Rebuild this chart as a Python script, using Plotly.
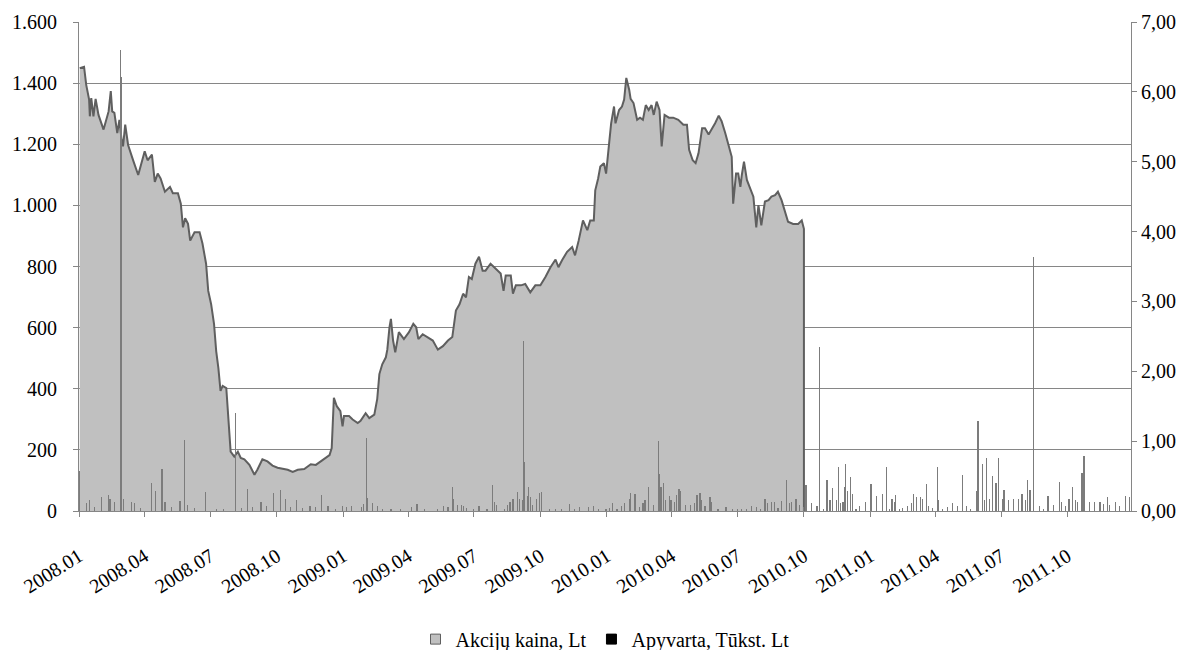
import plotly.graph_objects as go

# ---- Share price (Lt), right axis ----
price_dates = [
    "2008-01-02", "2008-01-08", "2008-01-11", "2008-01-15", "2008-01-16", "2008-01-18", "2008-01-21",
    "2008-01-24", "2008-01-28", "2008-02-04", "2008-02-11", "2008-02-14", "2008-02-16", "2008-02-19",
    "2008-02-23", "2008-02-26", "2008-02-29", "2008-03-02", "2008-03-05", "2008-03-09", "2008-03-16",
    "2008-03-23", "2008-04-01", "2008-04-05", "2008-04-11", "2008-04-15", "2008-04-19", "2008-04-23",
    "2008-04-29", "2008-05-06", "2008-05-10", "2008-05-17", "2008-05-21", "2008-05-24", "2008-05-27",
    "2008-05-31", "2008-06-03", "2008-06-09", "2008-06-16", "2008-06-20", "2008-06-25", "2008-06-28",
    "2008-07-02", "2008-07-06", "2008-07-09", "2008-07-12", "2008-07-15", "2008-07-18", "2008-07-23",
    "2008-07-25", "2008-07-29", "2008-08-03", "2008-08-08", "2008-08-12", "2008-08-17", "2008-08-24",
    "2008-08-31", "2008-09-04", "2008-09-11", "2008-09-18", "2008-09-25", "2008-10-02", "2008-10-09",
    "2008-10-16", "2008-10-23", "2008-10-30", "2008-11-08", "2008-11-17", "2008-11-24", "2008-12-01",
    "2008-12-08", "2008-12-13", "2008-12-16", "2008-12-19", "2008-12-23", "2008-12-28", "2008-12-31",
    "2009-01-02", "2009-01-09", "2009-01-14", "2009-01-21", "2009-01-25", "2009-02-01", "2009-02-06",
    "2009-02-13", "2009-02-17", "2009-02-20", "2009-02-24", "2009-03-01", "2009-03-03", "2009-03-06",
    "2009-03-08", "2009-03-11", "2009-03-14", "2009-03-19", "2009-03-26", "2009-04-02", "2009-04-08",
    "2009-04-12", "2009-04-15", "2009-04-21", "2009-04-28", "2009-05-05", "2009-05-12", "2009-05-19",
    "2009-05-26", "2009-06-01", "2009-06-06", "2009-06-11", "2009-06-16", "2009-06-20", "2009-06-24",
    "2009-06-28", "2009-07-03", "2009-07-08", "2009-07-13", "2009-07-17", "2009-07-24", "2009-07-31",
    "2009-08-07", "2009-08-11", "2009-08-14", "2009-08-21", "2009-08-24", "2009-08-28", "2009-09-04",
    "2009-09-10", "2009-09-17", "2009-09-24", "2009-10-01", "2009-10-08", "2009-10-15", "2009-10-22",
    "2009-10-26", "2009-10-31", "2009-11-07", "2009-11-14", "2009-11-18", "2009-11-23", "2009-11-29",
    "2009-12-05", "2009-12-09", "2009-12-14", "2009-12-16", "2009-12-20", "2009-12-23", "2009-12-28",
    "2009-12-31", "2010-01-04", "2010-01-07", "2010-01-11", "2010-01-13", "2010-01-18", "2010-01-22",
    "2010-01-25", "2010-01-28", "2010-02-01", "2010-02-03", "2010-02-07", "2010-02-12", "2010-02-16",
    "2010-02-20", "2010-02-24", "2010-02-28", "2010-03-04", "2010-03-07", "2010-03-11", "2010-03-15",
    "2010-03-18", "2010-03-22", "2010-03-28", "2010-04-03", "2010-04-10", "2010-04-17", "2010-04-22",
    "2010-04-25", "2010-04-30", "2010-05-04", "2010-05-08", "2010-05-13", "2010-05-17", "2010-05-22",
    "2010-05-27", "2010-05-31", "2010-06-05", "2010-06-09", "2010-06-14", "2010-06-18", "2010-06-23",
    "2010-06-25", "2010-06-29", "2010-07-02", "2010-07-05", "2010-07-07", "2010-07-10", "2010-07-14",
    "2010-07-19", "2010-07-23", "2010-07-27", "2010-07-30", "2010-08-03", "2010-08-08", "2010-08-13",
    "2010-08-17", "2010-08-22", "2010-08-26", "2010-08-31", "2010-09-05", "2010-09-09", "2010-09-16",
    "2010-09-23", "2010-09-28", "2010-10-01",
]
price_lt = [
    6.34, 6.36, 6.10, 5.89, 5.65, 5.91, 5.65,
    5.90, 5.67, 5.46, 5.72, 6.01, 5.72, 5.70,
    5.41, 5.60, 5.31, 5.22, 5.53, 5.24, 5.02,
    4.81, 5.15, 5.02, 5.10, 4.71, 4.83, 4.76,
    4.57, 4.64, 4.55, 4.55, 4.40, 4.06, 4.19,
    4.11, 3.87, 3.99, 3.99, 3.83, 3.54, 3.15,
    2.96, 2.68, 2.29, 2.05, 1.72, 1.79, 1.76,
    1.43, 0.85, 0.78, 0.85, 0.76, 0.74, 0.66,
    0.52, 0.59, 0.74, 0.71, 0.65, 0.62, 0.61,
    0.59, 0.56, 0.59, 0.60, 0.67, 0.66, 0.71,
    0.76, 0.80, 0.90, 1.62, 1.50, 1.43, 1.21,
    1.36, 1.36, 1.31, 1.26, 1.29, 1.40, 1.33,
    1.38, 1.60, 1.96, 2.10, 2.20, 2.31, 2.63,
    2.75, 2.44, 2.27, 2.56, 2.46, 2.56, 2.68,
    2.63, 2.46, 2.53, 2.49, 2.44, 2.31, 2.36,
    2.44, 2.49, 2.87, 2.96, 3.11, 3.06, 3.35,
    3.32, 3.54, 3.64, 3.44, 3.44, 3.54, 3.47,
    3.40, 3.15, 3.37, 3.37, 3.11, 3.23, 3.23,
    3.25, 3.13, 3.23, 3.23, 3.35, 3.49, 3.60,
    3.49, 3.59, 3.71, 3.78, 3.66, 3.87, 4.16,
    4.02, 4.16, 4.16, 4.59, 4.76, 4.93, 4.98,
    4.83, 5.24, 5.55, 5.79, 5.55, 5.74, 5.79,
    5.89, 6.20, 6.03, 5.90, 5.84, 5.60, 5.63,
    5.60, 5.81, 5.74, 5.81, 5.67, 5.86, 5.74,
    5.22, 5.67, 5.63, 5.63, 5.60, 5.53, 5.53,
    5.17, 5.02, 4.98, 5.12, 5.48, 5.48, 5.39,
    5.48, 5.55, 5.66, 5.58, 5.41, 5.24, 5.07,
    4.40, 4.83, 4.83, 4.64, 4.81, 5.00, 4.74,
    4.59, 4.50, 4.06, 4.38, 4.09, 4.43, 4.45,
    4.50, 4.52, 4.57, 4.45, 4.26, 4.14, 4.11,
    4.11, 4.16, 4.04,
]

# ---- Turnover (thousand Lt), left axis ----
volume_dates = [
    "2008-01-02", "2008-01-11", "2008-01-16", "2008-01-23", "2008-02-01", "2008-02-11", "2008-02-13",
    "2008-02-19", "2008-02-28", "2008-02-29", "2008-03-03", "2008-03-14", "2008-03-18", "2008-03-26",
    "2008-04-10", "2008-04-16", "2008-04-25", "2008-04-29", "2008-05-08", "2008-05-20", "2008-05-26",
    "2008-05-30", "2008-06-09", "2008-06-24", "2008-07-09", "2008-07-19", "2008-08-05", "2008-08-13",
    "2008-08-21", "2008-08-28", "2008-09-09", "2008-09-17", "2008-09-26", "2008-10-06", "2008-10-13",
    "2008-10-20", "2008-10-28", "2008-11-06", "2008-11-16", "2008-11-24", "2008-12-02", "2008-12-11",
    "2008-12-21", "2008-12-31",
    "2009-01-05", "2009-01-12", "2009-01-26", "2009-01-29", "2009-02-02", "2009-02-03", "2009-02-10",
    "2009-02-17", "2009-02-24", "2009-03-08", "2009-03-21", "2009-04-05", "2009-04-13", "2009-04-24",
    "2009-05-12", "2009-05-20", "2009-05-26", "2009-06-01", "2009-06-02", "2009-06-08", "2009-06-14",
    "2009-06-17", "2009-06-21", "2009-06-30", "2009-07-08", "2009-07-19", "2009-07-27", "2009-07-29",
    "2009-08-01", "2009-08-12", "2009-08-17", "2009-08-20", "2009-08-24", "2009-08-25", "2009-08-30",
    "2009-09-02", "2009-09-06", "2009-09-08", "2009-09-09", "2009-09-13", "2009-09-15", "2009-09-17",
    "2009-09-20", "2009-09-26", "2009-09-30", "2009-10-03", "2009-10-14", "2009-10-22", "2009-10-30",
    "2009-11-10", "2009-11-17", "2009-11-24", "2009-12-07", "2009-12-14", "2009-12-21", "2009-12-31",
    "2010-01-05", "2010-01-09", "2010-01-15", "2010-01-21", "2010-01-26", "2010-02-01", "2010-02-03",
    "2010-02-09", "2010-02-15", "2010-02-20", "2010-02-23", "2010-02-28", "2010-03-07", "2010-03-14",
    "2010-03-15", "2010-03-17", "2010-03-20", "2010-03-23", "2010-03-29", "2010-03-31", "2010-04-05",
    "2010-04-08", "2010-04-11", "2010-04-13", "2010-04-20", "2010-04-27", "2010-05-03", "2010-05-06",
    "2010-05-10", "2010-05-12", "2010-05-17", "2010-05-24", "2010-05-26", "2010-06-04", "2010-06-15",
    "2010-06-24", "2010-07-01", "2010-07-07", "2010-07-13", "2010-07-20", "2010-07-27", "2010-08-02",
    "2010-08-08", "2010-08-12", "2010-08-17", "2010-08-21", "2010-08-26", "2010-08-31", "2010-09-07",
    "2010-09-11", "2010-09-14", "2010-09-20", "2010-09-25", "2010-09-30", "2010-10-04", "2010-10-11",
    "2010-10-19", "2010-10-23", "2010-10-28", "2010-11-02", "2010-11-06", "2010-11-10", "2010-11-15",
    "2010-11-18", "2010-11-21", "2010-11-24", "2010-11-27", "2010-11-28", "2010-11-30", "2010-12-04",
    "2010-12-07", "2010-12-12", "2010-12-17", "2010-12-25",
    "2011-01-02", "2011-01-03", "2011-01-09", "2011-01-18", "2011-01-23", "2011-01-27", "2011-01-31",
    "2011-02-03", "2011-02-05", "2011-02-10", "2011-02-15", "2011-02-21", "2011-02-27", "2011-03-02",
    "2011-03-06", "2011-03-12", "2011-03-14", "2011-03-20", "2011-03-23", "2011-03-28", "2011-04-04",
    "2011-04-05", "2011-04-11", "2011-04-18", "2011-04-25", "2011-05-02", "2011-05-09", "2011-05-14",
    "2011-05-20", "2011-05-28", "2011-05-30", "2011-06-05", "2011-06-08", "2011-06-11", "2011-06-15",
    "2011-06-19", "2011-06-24", "2011-06-28", "2011-07-03", "2011-07-05", "2011-07-11", "2011-07-18",
    "2011-07-25", "2011-07-30", "2011-08-04", "2011-08-07", "2011-08-10", "2011-08-15", "2011-08-23",
    "2011-08-29", "2011-09-04", "2011-09-05", "2011-09-12", "2011-09-20", "2011-09-23", "2011-09-28",
    "2011-10-03", "2011-10-08", "2011-10-12", "2011-10-15", "2011-10-21", "2011-10-24", "2011-10-31",
    "2011-11-07", "2011-11-15", "2011-11-20", "2011-11-26", "2011-11-28", "2011-12-06", "2011-12-12",
    "2011-12-20", "2011-12-26",
]
volume_tlt = [
    131, 25, 35, 12, 45, 52, 40,
    30, 1510, 1420, 38, 28, 25, 10,
    93, 65, 137, 28, 12, 32, 233,
    20, 10, 62, 8, 6, 321, 10,
    72, 12, 30, 15, 58, 68, 40,
    12, 35, 10, 15, 12, 52, 18,
    8, 18,
    12, 18, 12, 22, 240, 41, 25,
    15, 6, 8, 5, 12, 22, 8,
    8, 18, 12, 80, 40, 20, 20,
    18, 10, 5, 15, 5, 85, 30,
    20, 8, 20, 30, 38, 40, 63,
    38, 35, 556, 160, 48, 80, 45,
    20, 38, 60, 62, 5, 5, 6,
    22, 6, 12, 12, 15, 6, 8,
    10, 25, 8, 15, 25, 40, 58,
    55, 12, 25, 35, 78, 20, 229,
    120, 80, 90, 35, 48, 35, 30,
    52, 72, 65, 20, 20, 25, 52,
    60, 35, 15, 45, 30, 6, 12,
    5, 5, 6, 8, 18, 12, 8,
    38, 25, 30, 30, 10, 33, 100,
    25, 30, 40, 20, 12, 85, 25,
    15, 535, 8, 100, 35, 75, 35,
    145, 25, 30, 80, 155, 65, 110,
    55, 8, 15, 30,
    87, 70, 50, 55, 145, 8, 40,
    30, 52, 6, 10, 15, 25, 55,
    45, 45, 40, 88, 15, 10, 145,
    35, 6, 12, 25, 18, 118, 15,
    6, 65, 295, 155, 35, 175, 40,
    115, 90, 175, 40, 70, 35, 38,
    40, 55, 35, 100, 70, 830, 15,
    8, 50, 30, 20, 95, 30, 15,
    40, 80, 35, 30, 125, 180, 30,
    30, 30, 22, 45, 20, 30, 15,
    50, 45,
]

left_ticks = [0, 200, 400, 600, 800, 1000, 1200, 1400, 1600]
right_ticks = [0, 1, 2, 3, 4, 5, 6, 7]

AXIS_GREY = "#868686"
FONT = dict(family="Liberation Serif", size=20, color="#000000")

fig = go.Figure()

# price area (primary y axis drawn on the right)
fig.add_trace(go.Scatter(
    x=price_dates + [price_dates[-1]],
    y=price_lt + [0],
    mode="lines",
    fill="tozeroy",
    fillcolor="#C0C0C0",
    line=dict(color="#5F5F5F", width=2),
    yaxis="y",
    showlegend=False,
    hoverinfo="skip",
))

# turnover bars (left axis, overlaid on top)
fig.add_trace(go.Bar(
    x=volume_dates,
    y=volume_tlt,
    width=86400000 * 0.3,
    marker=dict(color="#7C7C7C", line=dict(width=0)),
    yaxis="y2",
    showlegend=False,
    hoverinfo="skip",
))

# legend entries
fig.add_trace(go.Scatter(
    x=[None], y=[None], mode="markers", name="Akcijų kaina, Lt",
    marker=dict(symbol="square", size=10, color="#C0C0C0", line=dict(color="#5F5F5F", width=1)),
    yaxis="y2",
))
fig.add_trace(go.Scatter(
    x=[None], y=[None], mode="markers", name="Apyvarta, Tūkst. Lt",
    marker=dict(symbol="square", size=10, color="#000000", line=dict(color="#000000", width=1)),
    yaxis="y2",
))

fig.update_layout(
    width=1195,
    height=650,
    margin=dict(l=79, r=64, t=22, b=139, autoexpand=False),
    paper_bgcolor="#FFFFFF",
    plot_bgcolor="#FFFFFF",
    font=FONT,
    separators=",.",
    bargap=0,
    xaxis=dict(
        type="date",
        range=["2008-01-01", "2011-12-28"],
        tick0="2008-01-01",
        dtick="M3",
        tickformat="%Y.%m",
        tickangle=-32,
        tickfont=dict(family="Liberation Serif", size=20, color="#000000"),
        ticks="outside",
        ticklen=5,
        tickcolor=AXIS_GREY,
        showline=True,
        linecolor=AXIS_GREY,
        linewidth=1,
        showgrid=False,
        zeroline=False,
        ticklabelstandoff=20,
    ),
    yaxis=dict(
        side="right",
        range=[0, 7],
        tickvals=right_ticks,
        tickformat=".2f",
        ticks="outside",
        ticklen=5,
        tickcolor=AXIS_GREY,
        showline=True,
        linecolor=AXIS_GREY,
        showgrid=False,
        zeroline=False,
    ),
    yaxis2=dict(
        overlaying="y",
        side="left",
        range=[0, 1600],
        tickvals=left_ticks,
        tickformat=",",
        ticks="outside",
        ticklen=5,
        tickcolor=AXIS_GREY,
        showline=True,
        linecolor=AXIS_GREY,
        showgrid=True,
        gridcolor=AXIS_GREY,
        gridwidth=1,
        zeroline=False,
        ticklabelstandoff=12,
    ),
    legend=dict(
        orientation="h",
        x=0.5,
        xanchor="center",
        y=-0.262,
        yanchor="middle",
        font=FONT,
        itemwidth=30,
        tracegroupgap=0,
    ),
)

fig.write_html(
    "out.html",
    config={"displayModeBar": False},
    post_script="document.body.style.margin='0px';",
)
